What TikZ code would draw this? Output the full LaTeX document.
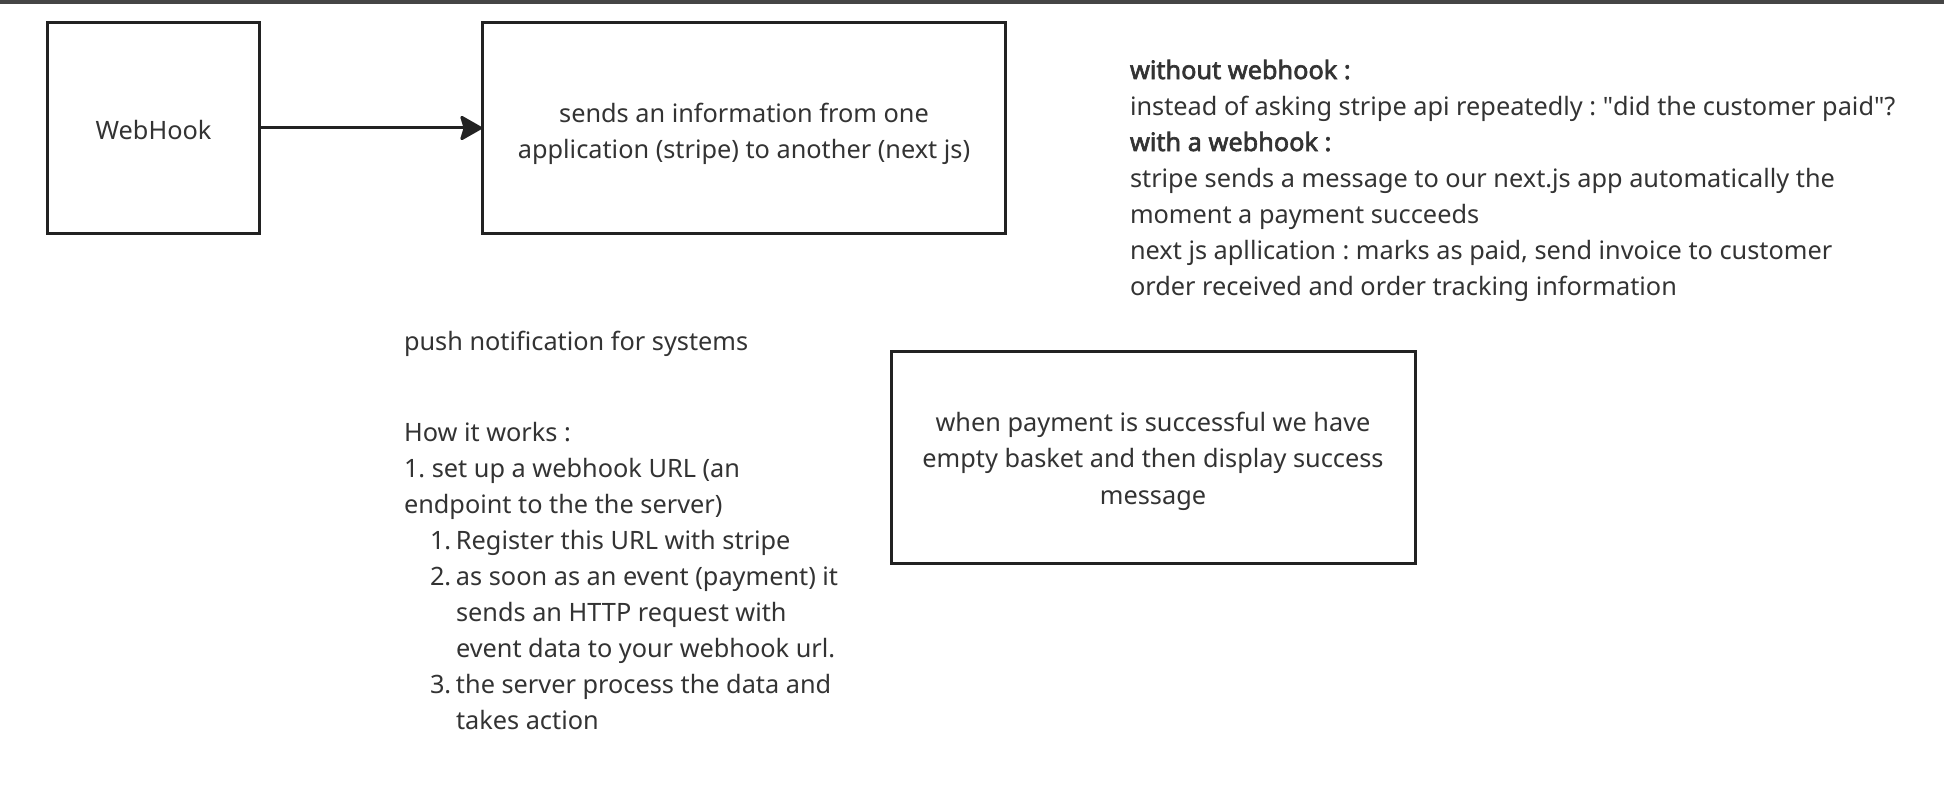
\documentclass[tikz,border=0pt]{standalone}
\usepackage{fontspec}
\setmainfont{Noto Sans}[AutoFakeBold=2.5]
\newfontfamily\plainq{Noto Sans}
\usetikzlibrary{arrows.meta}
\frenchspacing
\definecolor{txt}{HTML}{333333}
\definecolor{edge}{HTML}{222222}
\definecolor{bar}{HTML}{454545}
\newcommand{\sq}{{\plainq\symbol{34}}}
\tikzset{
  box/.style={draw=edge, line width=3pt, fill=white},
  txtnode/.style={inner sep=0pt, outer sep=0pt, text=txt, font=\fontsize{25.3}{36}\selectfont},
  boxtext/.style={txtnode, align=center, font=\fontsize{25.3}{36.5}\selectfont},
  conn/.style={draw=edge, line width=3pt, -{Stealth[length=24pt, width=27pt, inset=4pt, round]}},
}
\begin{document}
\begin{tikzpicture}[x=1pt,y=-1pt]
\useasboundingbox (0,0) rectangle (1944,789);
\fill[white] (0,0) rectangle (1944,789);
\fill[bar] (0,0) rectangle (1944,4);
% boxes
\draw[box] (47.5,22.5) rectangle (259.5,233.5);
\node[txtnode] (wh) at (153.5,130) {WebHook};
\coordinate (whR) at (259.5,128);
\draw[box] (482.5,22.5) rectangle (1005.5,233.5);
\node[boxtext] (info) at (744,134) {sends an information from one\\application (stripe) to another (next js)};
\coordinate (infoL) at (482,128);
\draw[conn] (whR) -- (infoL);
\draw[box] (891.5,351.5) rectangle (1415.5,563.5);
\node[boxtext] (succ) at (1153,461) {when payment is successful we have\\empty basket and then display success\\message};
% right text (base = last line)
\node[txtnode, anchor=base west, align=left] (rt) at (1130,295) {%
\textbf{without webhook :}\\
instead of asking stripe api repeatedly : \sq did the customer paid\sq ?\\
\textbf{with a webhook :}\\
stripe sends a message to our next.js app automatically the\\
moment a payment succeeds\\
next js apllication : marks as paid, send invoice to customer\\
order received and order tracking information};
% left text
\node[txtnode, anchor=base west] (push) at (404,350) {push notification for systems};
\node[txtnode, anchor=base west, align=left] (how) at (404,729) {%
How it works :\\
1. set up a webhook URL (an\\
endpoint to the the server)\\
\hspace*{26pt}\makebox[26pt][l]{1.}Register this URL with stripe\\
\hspace*{26pt}\makebox[26pt][l]{2.}as soon as an event (payment) it\\
\hspace*{52pt}sends an HTTP request with\\
\hspace*{52pt}event data to your webhook url.\\
\hspace*{26pt}\makebox[26pt][l]{3.}the server process the data and\\
\hspace*{52pt}takes action};
\end{tikzpicture}
\end{document}
